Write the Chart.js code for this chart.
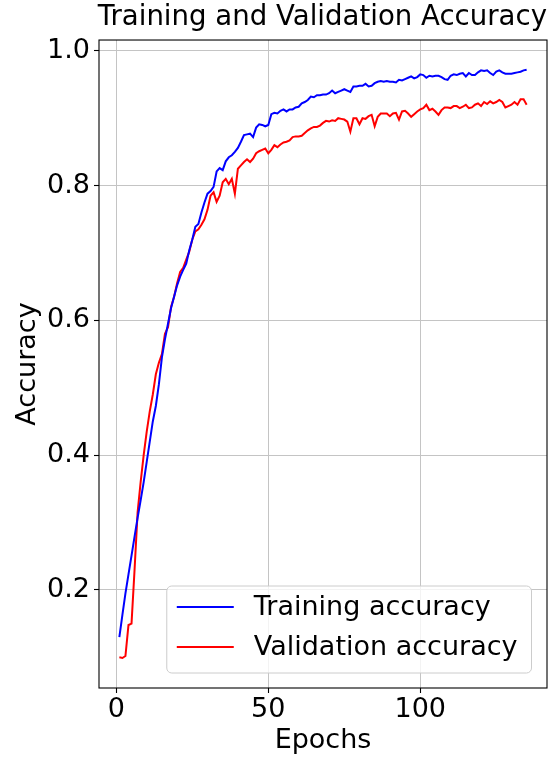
<!DOCTYPE html>
<html>
<head>
<meta charset="utf-8">
<script src="https://cdn.jsdelivr.net/npm/chart.js@4.4.0/dist/chart.umd.min.js"></script>
<style>
  html, body { margin: 0; padding: 0; background: #fff; }
  #wrap { width: 554px; height: 758px; }
</style>
</head>
<body>
<div id="wrap"><canvas id="accChart"></canvas></div>
<script>
// accuracy per epoch
const trainAcc = [
  0.130, 0.163, 0.195, 0.223, 0.251, 0.279, 0.307, 0.333, 0.360, 0.390,
  0.420, 0.450, 0.473, 0.505, 0.545, 0.572, 0.595, 0.618, 0.635, 0.652,
  0.665, 0.675, 0.684, 0.704, 0.720, 0.739, 0.743, 0.760, 0.775, 0.788,
  0.792, 0.798, 0.821, 0.826, 0.823, 0.836, 0.842, 0.845, 0.850, 0.856,
  0.865, 0.875, 0.876, 0.877, 0.872, 0.886, 0.891, 0.890, 0.888, 0.890,
  0.906, 0.908, 0.907, 0.911, 0.913, 0.910, 0.913, 0.913, 0.916, 0.917,
  0.922, 0.924, 0.927, 0.932, 0.931, 0.934, 0.934, 0.935, 0.935, 0.937,
  0.941, 0.937, 0.939, 0.941, 0.943, 0.941, 0.939, 0.947, 0.947, 0.948,
  0.948, 0.951, 0.947, 0.948, 0.952, 0.954, 0.955, 0.954, 0.955, 0.954,
  0.954, 0.953, 0.957, 0.956, 0.958, 0.960, 0.962, 0.959, 0.961, 0.965,
  0.964, 0.960, 0.963, 0.962, 0.963, 0.963, 0.961, 0.958, 0.957, 0.963,
  0.965, 0.964, 0.966, 0.967, 0.962, 0.967, 0.964, 0.964, 0.968, 0.971,
  0.970, 0.971, 0.967, 0.964, 0.969, 0.971, 0.968, 0.966, 0.966, 0.966,
  0.967, 0.968, 0.969, 0.971, 0.972
];
const valAcc = [
  0.100, 0.099, 0.102, 0.148, 0.150, 0.230, 0.315, 0.360, 0.400, 0.435,
  0.465, 0.490, 0.520, 0.537, 0.550, 0.580, 0.590, 0.620, 0.635, 0.655,
  0.672, 0.678, 0.690, 0.702, 0.720, 0.732, 0.735, 0.742, 0.750, 0.764,
  0.785, 0.790, 0.776, 0.785, 0.805, 0.810, 0.802, 0.810, 0.788, 0.825,
  0.830, 0.835, 0.839, 0.835, 0.840, 0.848, 0.851, 0.853, 0.855, 0.848,
  0.853, 0.860, 0.857, 0.861, 0.864, 0.865, 0.867, 0.872, 0.873, 0.873,
  0.874, 0.878, 0.882, 0.885, 0.887, 0.887, 0.889, 0.893, 0.896, 0.895,
  0.897, 0.896, 0.900, 0.899, 0.898, 0.895, 0.880, 0.900, 0.900, 0.891,
  0.900, 0.899, 0.903, 0.905, 0.888, 0.902, 0.907, 0.907, 0.907, 0.903,
  0.907, 0.908, 0.898, 0.910, 0.911, 0.907, 0.902, 0.906, 0.910, 0.913,
  0.915, 0.920, 0.912, 0.914, 0.910, 0.905, 0.912, 0.916, 0.916, 0.915,
  0.918, 0.918, 0.915, 0.917, 0.920, 0.915, 0.916, 0.920, 0.922, 0.918,
  0.924, 0.921, 0.925, 0.922, 0.924, 0.927, 0.924, 0.916, 0.918, 0.920,
  0.924, 0.920, 0.928, 0.928, 0.920
];
const epochs = trainAcc.map((_, i) => i + 1);
const xTicks = [0, 50, 100];
const yTicks = [0.2, 0.4, 0.6, 0.8, 1.0];

const FONT = "'DejaVu Sans', sans-serif";
Chart.defaults.font.family = FONT;
Chart.defaults.color = "#000";

// top/right/left/bottom spines like matplotlib
const framePlugin = {
  id: "frame",
  afterDraw(chart) {
    const { ctx, chartArea: a } = chart;
    ctx.save();
    ctx.strokeStyle = "#000";
    ctx.lineWidth = 1.1;
    ctx.strokeRect(a.left, a.top, a.right - a.left, a.bottom - a.top);
    ctx.restore();
  },
};

// legend box in lower right corner of the axes
const legendPlugin = {
  id: "boxLegend",
  afterDraw(chart) {
    const { ctx, chartArea: a } = chart;
    const sets = chart.data.datasets;
    ctx.save();
    ctx.font = "27px " + FONT;
    const textW = Math.max(...sets.map((d) => ctx.measureText(d.label).width));
    const w = 10 + 57 + 20 + textW + 14;
    const h = 87;
    const x = a.right - 15.5 - w;
    const y = a.bottom - 15 - h;
    ctx.beginPath();
    ctx.roundRect(x, y, w, h, 5);
    ctx.fillStyle = "rgba(255,255,255,0.8)";
    ctx.fill();
    ctx.strokeStyle = "#cccccc";
    ctx.lineWidth = 1;
    ctx.stroke();
    sets.forEach((d, i) => {
      const ry = y + 21 + i * 40;
      ctx.beginPath();
      ctx.moveTo(x + 10, ry);
      ctx.lineTo(x + 67, ry);
      ctx.strokeStyle = d.borderColor;
      ctx.lineWidth = 2;
      ctx.stroke();
      ctx.fillStyle = "#000";
      ctx.textBaseline = "middle";
      ctx.textAlign = "left";
      ctx.fillText(d.label, x + 87, ry + 1);
    });
    ctx.restore();
  },
};

new Chart(document.getElementById("accChart"), {
  type: "line",
  data: {
    datasets: [
      {
        label: "Training accuracy",
        data: epochs.map((e, i) => ({ x: e, y: trainAcc[i] })),
        borderColor: "#0000ff",
        borderWidth: 2,
        pointRadius: 0,
        tension: 0,
      },
      {
        label: "Validation accuracy",
        data: epochs.map((e, i) => ({ x: e, y: valAcc[i] })),
        borderColor: "#ff0000",
        borderWidth: 2,
        pointRadius: 0,
        tension: 0,
      },
    ],
  },
  options: {
    responsive: true,
    maintainAspectRatio: false,
    animation: false,
    devicePixelRatio: 1,
    layout: { padding: { left: 0, right: 7, top: 0, bottom: 0 } },
    plugins: {
      legend: { display: false },
      tooltip: { enabled: false },
      title: {
        display: true,
        text: "Training and Validation Accuracy",
        align: "end",
        color: "#000",
        font: { size: 27.6, weight: "normal" },
        padding: { top: 1.5, bottom: 5.4 },
      },
    },
    scales: {
      x: {
        type: "linear",
        min: -5.7,
        max: 141.7,
        afterBuildTicks: (s) => { s.ticks = xTicks.map((v) => ({ value: v })); },
        afterFit: (s) => { s.height = 70; },
        grid: { color: "#c4c4c4", lineWidth: 1, tickLength: 5, tickColor: "#000", tickWidth: 1.1 },
        border: { display: false },
        ticks: { font: { size: 27 }, padding: 1, maxRotation: 0, color: "#000" },
        title: { display: true, text: "Epochs", color: "#000", font: { size: 27 }, padding: { top: 0, bottom: 1 } },
      },
      y: {
        min: 0.0545,
        max: 1.016,
        afterBuildTicks: (s) => { s.ticks = yTicks.map((v) => ({ value: v })); },
        afterFit: (s) => { s.width = 99; },
        grid: { color: "#c4c4c4", lineWidth: 1, tickLength: 5, tickColor: "#000", tickWidth: 1.1 },
        border: { display: false },
        ticks: { font: { size: 27 }, padding: 4, color: "#000", callback: (v) => v.toFixed(1) },
        title: { display: true, text: "Accuracy", color: "#000", font: { size: 27 }, padding: { top: 12, bottom: 0 } },
      },
    },
  },
  plugins: [framePlugin, legendPlugin],
});
</script>
</body>
</html>
